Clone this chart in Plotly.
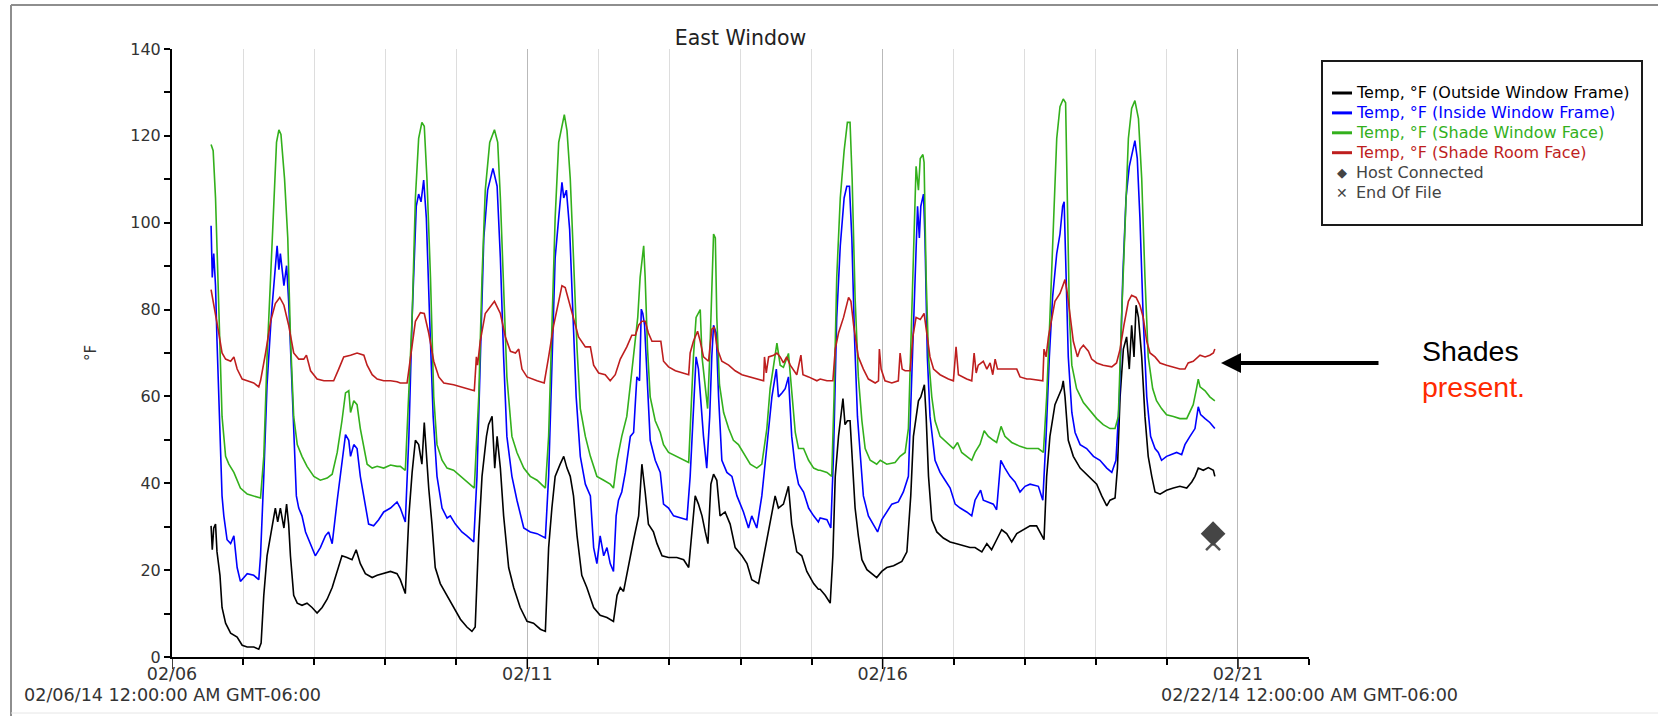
import pandas as pd
import plotly.graph_objects as go

START = pd.Timestamp("2014-02-06 00:00:00")
END = pd.Timestamp("2014-02-22 00:00:00")

# ---- data: hours since 02/06 00:00 and temperatures (°F) ----
outside_hours = [
    13.2, 13.6, 14.1, 14.7, 15.2, 16.2, 16.9, 18.1, 19.8, 22.0, 23.7, 25.4, 27.6, 29.3, 30.1,
    31.0, 32.1, 33.8, 34.9, 35.7, 36.6, 37.8, 38.7, 39.4, 40.0, 41.1, 42.3, 43.9, 45.6, 47.3,
    49.0, 50.7, 52.4, 54.1, 55.8, 57.4, 59.1, 60.8, 62.2, 63.6, 65.3, 67.6, 69.3, 71.5, 73.8, 76.0,
    77.1, 78.8, 80.0, 81.1, 82.2, 83.3, 84.4, 85.2, 85.9, 86.7, 87.8, 88.9, 90.6, 92.9, 95.1,
    97.4, 99.6, 101.3, 102.4, 103.6, 104.7, 106.2, 106.9, 108.1, 109.0, 109.8, 110.9, 112.0, 113.7, 115.4,
    117.6, 119.9, 122.1, 124.4, 126.1, 127.2, 128.3, 129.4, 131.1, 132.3, 133.4, 134.5, 135.6, 136.8, 138.4,
    140.1, 142.4, 144.6, 146.9,
    148.0, 149.1, 150.3, 151.4, 152.5, 154.2, 155.9, 157.6, 158.7, 159.8, 160.9, 162.6, 163.8, 165.5, 167.7,
    170.5, 172.8, 174.5, 175.6, 176.7, 177.8, 179.0, 180.1, 181.0, 182.0, 182.9, 184.0, 185.1, 186.8, 188.5,
    190.2, 192.5, 194.2, 195.8, 198.1, 199.8, 201.5, 202.9, 203.7, 204.8, 206.5, 208.2, 209.3, 211.0, 212.7,
    214.4, 216.7, 218.3,
    218.9, 220.6, 222.3, 223.2, 224.0, 225.1, 225.9, 226.6, 227.3, 228.1, 229.0, 229.6, 230.7, 231.8, 233.0,
    234.7, 236.3, 238.0, 239.7, 241.4, 243.7, 246.5, 248.2, 249.5, 250.4, 251.3, 252.1, 252.9, 253.6, 254.1,
    254.7, 255.5, 256.6, 258.3, 260.5, 262.8, 265.0, 267.3, 269.5, 271.2, 273.5, 275.2, 276.8, 278.5, 280.2,
    281.9, 283.6, 285.3, 287.5,
    289.8, 292.0, 293.7, 294.5, 295.4, 296.5, 298.2, 299.4, 300.5, 301.0, 301.6, 302.7, 304.4, 306.7, 309.5,
    312.3, 314.0, 315.7, 316.8, 318.5, 319.3, 320.2, 321.3, 322.4, 323.3, 324.1, 324.9, 325.6, 326.4, 327.5,
    328.6, 329.7, 330.9, 332.0, 333.7, 335.9, 338.2, 340.4, 342.7, 344.4, 345.5, 346.6, 348.3, 350.0, 351.7, 352.2,
]
outside_temp = [
    30.2, 24.7, 29.7, 30.6, 24.2, 18.8, 11.4, 7.8, 5.5, 4.6, 2.7, 2.3, 2.3, 1.8, 3.2,
    14.2, 23.3, 29.7, 34.3, 31.1, 34.3, 29.7, 35.2, 30.6, 23.3, 14.2, 12.4, 11.9, 12.4, 11.4,
    10.1, 11.4, 13.3, 16.0, 19.7, 23.3, 22.9, 22.4, 24.7, 21.5, 19.2, 18.3, 18.8, 19.2, 19.7, 19.2,
    17.8, 14.6, 32.5, 42.5, 49.9, 48.9, 44.4, 54.0, 47.1, 38.9, 30.6, 20.6, 16.9, 14.2, 11.4,
    8.7, 6.9, 5.9, 6.9, 27.9, 41.6, 50.8, 53.5, 55.4, 43.5, 50.8, 43.5, 32.5, 20.6, 16.0,
    11.4, 8.2, 7.8, 6.4, 5.9, 25.2, 34.3, 41.6, 44.4, 46.2, 43.5, 41.6, 37.1, 27.9, 18.8,
    16.0, 11.4, 9.6, 9.1,
    8.7, 8.2, 14.2, 16.0, 15.1, 21.5, 27.0, 32.5, 44.4, 38.0, 30.6, 28.8, 26.1, 23.3, 22.9,
    22.9, 22.4, 20.6, 29.7, 37.1, 35.2, 32.5, 28.8, 26.1, 39.8, 42.1, 40.7, 32.5, 33.4, 30.6,
    25.2, 23.3, 21.5, 17.8, 16.9, 23.3, 28.8, 34.3, 37.1, 34.3, 35.2, 39.3, 30.6, 24.2, 23.3,
    19.7, 16.9, 15.6,
    15.6, 14.2, 12.4, 23.3, 41.6, 50.8, 55.4, 59.5, 53.5, 54.4, 54.4, 46.2, 34.3, 27.9, 22.4,
    20.1, 19.2, 18.3, 19.7, 20.6, 21.0, 22.0, 24.2, 37.1, 50.8, 55.4, 59.0, 59.9, 61.8, 62.7,
    55.4, 41.6, 31.6, 28.8, 27.4, 26.5, 26.1, 25.6, 25.2, 25.2, 24.2, 26.1, 24.7, 27.0, 29.3,
    28.4, 26.5, 28.4, 29.3,
    30.2, 30.2, 27.9, 27.0, 41.6, 50.8, 58.1, 59.9, 61.8, 63.6, 59.9, 49.9, 46.2, 43.5, 41.6,
    39.8, 37.1, 34.8, 36.1, 36.6, 43.5, 59.9, 70.9, 73.7, 66.3, 76.4, 69.1, 81.0, 78.2, 69.1,
    55.4, 46.2, 41.6, 38.0, 37.5, 38.4, 38.9, 39.3, 38.9, 40.3, 41.6, 43.5, 43.0, 43.6, 43.0, 41.6,
]

inside_hours = [
    13.2, 13.6, 14.1, 14.7, 15.2, 16.2, 16.9, 17.5, 18.6, 19.8, 20.9, 22.0, 23.1, 25.4, 27.6,
    29.3, 29.9, 31.0, 32.1, 33.5, 34.4, 35.5, 36.1, 36.6, 37.8, 38.7, 39.4, 40.0, 41.1, 42.0,
    42.8, 43.9, 45.1, 46.8, 48.4, 50.1, 51.8, 52.9, 54.1, 55.8, 57.4, 58.6, 59.7, 60.3, 61.4,
    62.5, 63.6, 65.3, 66.4, 68.1, 69.8, 71.5, 73.8, 76.0,
    77.1, 78.8, 80.0, 81.1, 82.5, 83.3, 84.1, 85.0, 85.9, 87.0, 88.2, 89.5, 91.2, 92.9, 94.0,
    95.7, 97.9, 99.6, 101.9, 103.0, 104.1, 105.3, 106.6, 108.4, 109.8, 110.9, 112.0, 113.1, 114.8, 116.5,
    118.8, 121.0, 123.3, 126.1, 127.2, 128.3, 129.4, 130.6, 131.7, 132.3, 133.2, 134.3, 135.4, 136.5, 137.9,
    139.6, 141.3, 142.4, 143.5, 144.6, 145.8, 146.9,
    148.0, 149.1, 150.0, 150.8, 151.9, 153.1, 154.8, 155.9, 157.0, 157.9, 158.5, 159.0, 159.6, 160.4, 161.5,
    163.2, 164.9, 166.0, 167.7, 169.4, 171.7, 173.9, 175.0, 176.1, 177.0, 177.8, 178.4, 179.5, 180.6, 181.6,
    182.3, 182.9, 183.8, 184.6, 185.7, 187.4, 189.1, 190.8, 193.0, 194.7, 195.8, 197.5, 199.2, 200.9, 202.6,
    204.1, 204.8, 206.0, 207.1, 208.2, 209.3, 210.5, 211.6, 213.3, 215.0, 216.7, 218.3,
    218.9, 221.2, 222.5, 223.4, 224.5, 225.7, 227.0, 227.9, 228.8, 229.6, 230.5, 231.5, 232.4, 233.5, 235.2,
    236.9, 238.3, 239.7, 241.4, 243.1, 245.3, 247.0, 248.7, 249.8, 251.0, 251.8, 252.4, 252.9, 253.8, 254.3,
    255.1, 256.0, 257.7, 259.4, 261.1, 262.8, 264.5, 266.2, 268.4, 270.1, 271.2, 273.1, 274.0, 275.7, 277.4,
    278.5, 279.9, 281.3, 283.0, 284.7, 286.4, 288.1,
    289.8, 292.6, 294.1, 295.2, 296.3, 297.4, 298.8, 299.9, 300.8, 301.3, 301.9, 302.7, 303.9, 305.0, 306.7,
    308.9, 311.2, 313.4, 315.7, 317.4, 318.8, 320.0, 321.1, 322.2, 323.3, 324.1, 325.2, 326.0, 326.9, 328.0,
    329.2, 330.5, 332.0, 333.1, 334.2, 335.9, 337.6, 339.3, 341.0, 342.1, 343.8, 345.5, 346.6, 347.4, 348.9,
    350.5, 352.2,
]
inside_temp = [
    99.3, 87.4, 92.9, 85.5, 72.7, 50.8, 37.1, 32.5, 27.0, 26.1, 27.9, 20.6, 17.4, 19.2, 18.8,
    17.8, 23.3, 41.6, 62.7, 78.2, 85.5, 94.7, 89.2, 92.9, 85.5, 90.1, 81.9, 70.9, 50.8, 37.1,
    34.3, 32.5, 28.8, 26.1, 23.3, 25.2, 27.9, 28.8, 26.1, 36.1, 45.3, 51.2, 49.9, 46.2, 48.9,
    48.0, 41.6, 34.3, 30.6, 30.2, 31.6, 33.4, 34.3, 35.7,
    34.3, 31.1, 50.8, 78.2, 103.8, 106.6, 104.8, 109.8, 101.1, 78.2, 55.4, 41.6, 34.3, 32.0, 32.5,
    30.6, 28.8, 27.9, 26.5, 41.6, 69.1, 96.5, 107.5, 112.5, 108.4, 91.9, 69.1, 50.8, 41.6, 36.1,
    29.7, 28.8, 28.4, 27.4, 41.6, 69.1, 91.9, 101.1, 109.3, 105.7, 107.5, 98.4, 78.2, 59.9, 46.2,
    39.8, 37.1, 25.2, 21.5, 27.9, 23.3, 25.2,
    21.5, 19.7, 32.5, 36.1, 38.0, 42.5, 50.8, 51.7, 64.5, 63.6, 80.1, 79.1, 76.4, 64.5, 49.9,
    45.3, 42.5, 35.2, 34.3, 32.5, 32.0, 31.6, 41.6, 58.1, 69.1, 66.3, 60.8, 50.8, 43.5, 55.4,
    69.1, 76.4, 74.6, 59.9, 45.3, 42.5, 41.6, 37.1, 33.4, 29.7, 32.5, 29.7, 37.1, 48.0, 59.9,
    66.3, 59.9, 60.8, 61.8, 64.5, 50.8, 43.5, 39.8, 38.0, 34.3, 32.5, 31.1,
    32.0, 31.6, 29.7, 46.2, 78.2, 94.7, 105.7, 108.4, 108.4, 96.5, 73.7, 55.4, 47.1, 37.1, 32.5,
    30.6, 28.8, 31.6, 33.4, 35.2, 35.7, 38.0, 41.6, 64.5, 91.9, 103.8, 96.5, 103.8, 106.6, 96.5,
    69.1, 55.4, 45.3, 42.5, 40.7, 38.9, 35.2, 34.3, 33.4, 32.5, 36.1, 38.4, 36.1, 35.7, 35.2,
    33.9, 45.3, 43.5, 41.6, 40.3, 38.0, 39.3,
    39.8, 39.3, 36.1, 50.8, 69.1, 82.8, 92.9, 97.4, 103.8, 104.8, 87.4, 69.1, 56.3, 51.7, 48.9,
    48.0, 46.2, 45.3, 43.5, 42.5, 45.3, 59.9, 87.4, 105.7, 112.9, 115.7, 118.9, 114.8, 101.1, 78.2,
    59.9, 50.8, 48.0, 47.1, 45.3, 46.2, 46.6, 47.1, 46.6, 48.9, 50.8, 52.6, 57.6, 55.8, 54.9,
    54.0, 52.6,
]

window_face_hours = [
    13.2, 13.9, 14.7, 15.8, 16.9, 18.1, 19.2, 20.9, 23.1, 25.4, 27.6, 29.9, 31.0, 32.1, 33.3,
    34.4, 35.3, 36.1, 36.8, 38.0, 39.1, 40.0, 41.1, 42.3, 43.9, 45.6, 47.9, 50.1, 52.4, 54.1,
    55.8, 57.4, 58.6, 59.7, 60.3, 61.4, 62.5, 63.6, 64.8, 65.9, 67.6, 69.3, 71.5, 73.8, 76.0,
    77.1, 78.8, 80.0, 81.1, 82.2, 83.3, 84.4, 85.2, 86.1, 87.3, 88.4, 89.5, 91.2, 92.9, 95.1,
    97.4, 99.6, 102.1, 103.6, 104.7, 105.8, 107.3, 108.9, 110.0, 110.9, 112.0, 113.1, 114.8, 116.5, 118.8,
    121.0, 123.3, 126.1, 127.2, 128.3, 129.4, 130.6, 131.7, 132.5, 133.4, 134.5, 135.6, 136.8, 137.9, 139.6,
    141.3, 143.5, 145.8, 146.9,
    148.0, 149.1, 150.3, 151.9, 153.6, 154.8, 155.9, 157.3, 158.1, 159.3, 159.8, 160.6, 161.5, 163.2, 164.9,
    166.0, 167.7, 170.5, 172.8, 174.5, 175.2, 176.1, 177.0, 177.8, 178.4, 179.0, 180.1, 180.9, 181.6, 182.3,
    182.9, 183.5, 184.0, 184.9, 186.3, 188.0, 189.6, 191.3, 193.0, 195.3, 197.5, 199.2, 200.9, 202.0, 203.2,
    204.3, 205.4, 206.5, 208.2, 209.3, 210.5, 211.6, 213.3, 215.0, 216.7, 218.3,
    218.9, 221.2, 222.8, 223.6, 224.5, 225.7, 227.0, 228.1, 229.0, 229.7, 230.7, 231.8, 233.0, 234.1, 235.8,
    238.0, 239.2, 241.4, 244.2, 245.9, 247.6, 248.7, 249.8, 250.6, 251.3, 252.1, 252.7, 253.6, 254.0, 254.7,
    255.5, 256.6, 257.7, 259.4, 261.7, 263.9, 265.3, 266.7, 268.4, 270.1, 271.2, 272.9, 274.3, 275.7, 277.4,
    278.5, 280.0, 281.3, 283.6, 286.4, 288.7,
    289.8, 292.6, 294.3, 295.4, 296.5, 297.7, 298.8, 299.9, 301.0, 301.8, 302.4, 303.1, 303.9, 305.5, 307.8,
    310.0, 312.3, 314.5, 316.8, 318.5, 319.6, 320.7, 321.9, 323.0, 324.1, 325.2, 326.4, 327.5, 328.6, 329.7,
    331.2, 332.5, 334.2, 335.9, 338.2, 340.4, 342.7, 344.9, 346.0, 346.6, 347.2, 348.9, 350.5, 352.2,
]
window_face_temp = [
    118.0, 116.6, 105.7, 78.2, 55.4, 46.2, 44.4, 42.5, 38.9, 37.5, 37.1, 36.6, 46.2, 69.1, 87.4,
    105.7, 118.5, 121.4, 120.3, 110.2, 96.5, 73.7, 55.4, 48.9, 46.2, 43.9, 41.6, 40.7, 41.2, 42.1,
    47.1, 54.4, 60.8, 61.3, 56.3, 59.0, 58.1, 52.6, 48.0, 44.4, 43.5, 43.9, 43.5, 44.2, 43.9,
    43.9, 43.0, 59.9, 78.2, 105.7, 119.4, 123.1, 122.2, 110.2, 87.4, 59.9, 48.9, 45.3, 43.5, 43.0,
    41.6, 40.3, 38.9, 59.9, 87.4, 107.5, 118.5, 121.4, 118.5, 105.7, 82.8, 64.5, 50.8, 47.1, 43.5,
    41.6, 40.7, 38.9, 50.8, 73.7, 101.1, 118.5, 122.2, 124.9, 121.2, 110.2, 91.9, 70.9, 57.2, 50.8,
    46.2, 41.6, 40.7, 40.3,
    39.8, 38.9, 45.3, 50.8, 55.4, 62.7, 69.1, 78.2, 87.4, 94.7, 87.4, 70.9, 59.9, 54.4, 51.7,
    48.9, 47.1, 46.2, 45.3, 44.8, 55.4, 69.1, 78.2, 79.1, 80.0, 69.1, 61.8, 57.2, 69.1, 87.4,
    97.4, 96.5, 78.2, 62.7, 56.3, 52.6, 49.9, 48.9, 47.1, 44.4, 43.5, 44.4, 52.6, 61.8, 67.2,
    72.3, 67.2, 66.7, 69.9, 61.8, 51.7, 48.0, 48.0, 45.3, 43.5, 43.0,
    43.0, 42.5, 41.6, 59.9, 87.4, 105.7, 116.6, 123.1, 123.1, 110.2, 82.8, 64.5, 54.4, 48.0, 45.3,
    44.4, 45.3, 44.4, 44.8, 46.2, 47.1, 52.6, 78.2, 101.1, 113.0, 107.5, 114.8, 115.7, 113.9, 87.4,
    69.1, 59.9, 54.4, 50.8, 49.4, 48.0, 49.4, 47.1, 46.2, 45.3, 47.1, 49.0, 52.1, 50.8, 49.9,
    49.4, 53.1, 50.8, 49.4, 48.5, 48.0,
    48.0, 48.0, 47.1, 59.9, 78.2, 101.1, 119.4, 126.7, 128.5, 127.6, 105.7, 78.2, 67.2, 61.8, 58.6,
    56.8, 54.9, 53.5, 52.6, 52.6, 55.4, 78.2, 101.1, 119.4, 126.3, 128.1, 124.0, 110.2, 87.4, 69.1,
    61.8, 59.0, 57.2, 55.8, 55.4, 54.9, 54.9, 58.1, 61.8, 64.0, 62.2, 61.3, 59.9, 59.0,
]

room_face_hours = [
    13.2, 14.7, 15.8, 16.9, 18.1, 19.8, 20.9, 22.0, 23.7, 25.4, 27.6, 29.3, 29.9, 31.6, 33.3,
    34.9, 36.4, 37.8, 39.4, 41.1, 42.8, 44.5, 45.4, 46.8, 49.0, 51.3, 54.6, 56.3, 58.0, 60.3,
    62.5, 64.8, 65.9, 67.6, 69.3, 71.5, 73.8, 76.0,
    77.1, 79.4, 80.5, 82.2, 83.9, 85.2, 86.7, 88.4, 90.1, 91.8, 95.1, 99.6, 102.1, 102.8, 103.2,
    104.1, 105.8, 108.9, 110.9, 112.6, 114.3, 116.0, 117.1, 118.2, 119.9, 123.3, 125.7, 127.2, 128.9, 130.6,
    131.7, 132.8, 134.5, 135.6, 137.3, 139.6, 141.3, 142.4, 144.1, 146.3,
    148.0, 149.7, 151.4, 153.6, 155.3, 156.5, 157.6, 158.7, 159.8, 160.9, 162.1, 163.8, 165.1, 166.0, 167.7,
    170.0, 172.8, 174.5, 175.0, 176.1, 177.5, 178.4, 179.5, 181.2, 182.3, 183.1, 184.2, 185.7, 188.0, 190.2,
    192.5, 195.3, 197.5, 199.8, 200.1, 200.7, 201.5, 203.2, 204.3, 205.4, 206.5, 207.6, 208.8, 211.0, 212.4,
    213.1, 215.0, 217.8,
    218.9, 221.2, 223.2, 224.0, 225.1, 226.8, 228.5, 229.3, 230.2, 231.8, 233.5, 235.2, 237.5, 238.6, 238.9,
    239.5, 240.8, 243.1, 245.3, 245.9, 246.6, 247.6, 249.3, 250.2, 251.3, 252.7, 254.0, 255.1, 256.0, 257.2,
    259.4, 262.2, 263.9, 264.8, 265.6, 268.4, 270.1, 270.9, 271.6, 272.3, 274.0, 275.2, 276.3, 277.2, 278.0,
    278.8, 280.8, 283.0, 285.3, 286.4, 288.7,
    289.8, 293.2, 294.1, 294.5, 295.2, 296.0, 297.1, 298.2, 299.9, 301.6, 302.4, 303.3, 304.4, 305.8, 306.7,
    307.8, 309.5, 310.6, 312.3, 314.5, 317.4, 319.0, 320.2, 321.5, 323.0, 324.1, 325.6, 326.9, 328.0, 329.2,
    330.3, 332.0, 333.7, 335.9, 338.2, 340.4, 342.1, 343.2, 344.9, 347.2, 348.9, 350.5, 351.7, 352.2,
]
room_face_temp = [
    84.6, 78.2, 74.6, 70.0, 68.6, 68.1, 69.1, 66.3, 64.0, 63.6, 63.1, 62.2, 63.6, 70.0, 77.3,
    81.4, 82.8, 81.0, 76.4, 70.0, 68.6, 68.6, 69.5, 65.9, 64.0, 63.6, 63.6, 66.3, 69.1, 69.5,
    70.0, 69.5, 67.2, 65.0, 64.0, 63.6, 63.6, 63.4,
    63.1, 63.1, 69.1, 77.3, 79.3, 79.1, 74.6, 68.1, 64.5, 63.1, 62.7, 61.9, 61.3, 69.1, 67.2,
    72.7, 79.1, 81.9, 79.1, 73.7, 70.4, 70.0, 70.9, 66.3, 64.5, 63.6, 63.1, 69.1, 76.4, 81.9,
    85.5, 85.1, 81.0, 78.2, 73.7, 71.4, 71.4, 67.2, 65.4, 65.0,
    63.6, 65.0, 68.6, 71.4, 74.1, 74.1, 76.4, 77.3, 77.3, 74.6, 72.7, 72.7, 72.7, 68.1, 66.8,
    65.9, 65.4, 65.0, 70.0, 72.7, 75.0, 72.7, 69.1, 68.1, 75.5, 75.9, 70.9, 68.1, 67.2, 65.9,
    65.0, 64.5, 64.0, 63.6, 69.1, 65.4, 69.1, 69.5, 70.0, 69.1, 67.7, 69.1, 67.2, 65.0, 69.5,
    65.0, 64.5, 63.6,
    64.0, 63.6, 63.6, 70.9, 74.6, 78.2, 82.8, 81.9, 76.4, 69.1, 66.3, 64.0, 63.1, 63.6, 70.9,
    66.3, 63.6, 63.1, 63.6, 70.0, 66.3, 65.9, 65.9, 73.7, 78.2, 77.7, 79.1, 73.7, 69.1, 66.3,
    65.0, 64.0, 63.6, 71.4, 65.0, 64.0, 63.6, 70.0, 65.4, 67.2, 68.1, 66.3, 67.7, 65.0, 68.6,
    66.3, 66.3, 66.3, 66.3, 64.5, 64.0,
    64.0, 63.6, 63.6, 70.9, 69.1, 73.7, 78.2, 81.9, 83.7, 86.9, 83.7, 78.2, 72.7, 69.1, 70.9,
    71.8, 70.4, 68.6, 67.7, 67.2, 66.8, 67.7, 70.9, 76.4, 81.9, 83.3, 82.8, 81.0, 78.2, 72.7,
    70.0, 69.1, 67.7, 67.2, 66.8, 66.3, 66.3, 67.7, 68.1, 69.5, 69.1, 69.5, 70.0, 70.9,
]

host_connected_hours = [351.6]
host_connected_temp = [28.4]
end_of_file_hours = [351.6]
end_of_file_temp = [26.2]

series_names = [
    "Temp, °F (Outside Window Frame)",
    "Temp, °F (Inside Window Frame)",
    "Temp, °F (Shade Window Face)",
    "Temp, °F (Shade Room Face)",
]
series_colors = ["#000000", "#0000FF", "#33B01C", "#BE1E1E"]
marker_names = ["Host Connected", "End Of File"]
marker_color = "#444444"
labeled_tick_days = [0, 5, 10, 15]   # 02/06, 02/11, 02/16, 02/21

series_data = [
    (outside_hours, outside_temp),
    (inside_hours, inside_temp),
    (window_face_hours, window_face_temp),
    (room_face_hours, room_face_temp),
]
for hh, vv in series_data:
    assert len(hh) == len(vv), (len(hh), len(vv))


def to_time(hours):
    return [START + pd.Timedelta(hours=h) for h in hours]


FONT = "DejaVu Sans"
# plot-area geometry (pixels) used to place decorations outside the axes
L, R, T, B = 172, 1309, 49, 657
PW, PH = R - L, B - T


def px(x):
    return (x - L) / PW


def py(y):
    return (B - y) / PH


fig = go.Figure()

for name, color, (hh, vv) in zip(series_names, series_colors, series_data):
    fig.add_trace(go.Scatter(
        x=to_time(hh), y=vv, mode="lines", name=name, showlegend=False,
        line=dict(color=color, width=1.6),
    ))

fig.add_trace(go.Scatter(
    x=to_time(end_of_file_hours), y=end_of_file_temp, mode="markers", showlegend=False,
    name=marker_names[1],
    marker=dict(symbol="x-thin-open", size=14, color="#555555",
                line=dict(color="#555555", width=2.5)),
))
fig.add_trace(go.Scatter(
    x=to_time(host_connected_hours), y=host_connected_temp, mode="markers", showlegend=False,
    name=marker_names[0],
    marker=dict(symbol="diamond", size=19, color="#454545"),
))

DAY_MS = 86400000

fig.update_layout(
    width=1658, height=716,
    margin=dict(l=L, r=1658 - R, t=T, b=716 - B, pad=0),
    paper_bgcolor="white", plot_bgcolor="white",
    font=dict(family=FONT, color="#333333"),
    title=dict(text="East Window", x=0.5, xref="paper", xanchor="center",
               y=1 - 38 / 716, yref="container", yanchor="middle",
               font=dict(family=FONT, size=20.5, color="#222222")),
    showlegend=False,
    xaxis=dict(
        type="date", range=[START, END],
        tickmode="linear", tick0="2014-02-06", dtick=5 * DAY_MS,
        tickformat="%m/%d",
        ticks="outside", ticklen=0, tickwidth=1.5, tickcolor="black",
        showline=True, linecolor="black", linewidth=2,
        showgrid=True, gridcolor="#b9b9b9", gridwidth=1,
        zeroline=False,
        tickfont=dict(family=FONT, size=17.5, color="#333333"),
        minor=dict(dtick=DAY_MS, tick0="2014-02-06", ticks="outside", ticklen=6,
                   tickwidth=1.5, tickcolor="black",
                   showgrid=True, gridcolor="#dddddd", gridwidth=1),
    ),
    yaxis=dict(
        range=[0, 140], tickmode="linear", tick0=0, dtick=20,
        ticks="outside", ticklen=6, tickwidth=1.5, tickcolor="black",
        showline=True, linecolor="black", linewidth=2,
        showgrid=False, zeroline=False,
        tickfont=dict(family=FONT, size=16, color="#333333"),
        minor=dict(dtick=10, ticks="outside", ticklen=6, tickwidth=1.5, tickcolor="black",
                   showgrid=False),
        title=dict(text="°F", standoff=30, font=dict(family=FONT, size=15, color="#333333")),
    ),
)

# longer ticks at the labelled dates (they run through the labels, as in the original)
for d in labeled_tick_days:
    t = START + pd.Timedelta(days=d)
    fig.add_shape(type="line", xref="x", yref="paper", x0=t, x1=t, y0=0, y1=-12 / PH,
                  line=dict(color="black", width=1.5))

# frame around the whole picture
fx0 = px(11)
fig.add_shape(type="line", xref="paper", yref="paper", x0=fx0, x1=px(1658),
              y0=py(5), y1=py(5), line=dict(color="#8e8e8e", width=2))
fig.add_shape(type="line", xref="paper", yref="paper", x0=fx0, x1=fx0,
              y0=py(5), y1=py(716), line=dict(color="#8e8e8e", width=2))
fig.add_shape(type="line", xref="paper", yref="paper", x0=fx0, x1=px(1658),
              y0=py(713), y1=py(713), line=dict(color="#e6e6e6", width=1))

# ---- legend box (drawn) ----
fig.add_shape(type="rect", xref="paper", yref="paper", x0=px(1322), x1=px(1642),
              y0=py(61), y1=py(225), line=dict(color="#1a1a1a", width=2), fillcolor="white")
row_y = [93 + 19.9 * i for i in range(6)]
for i, (name, color) in enumerate(zip(series_names, series_colors)):
    fig.add_shape(type="line", xref="paper", yref="paper", x0=px(1332), x1=px(1352),
                  y0=py(row_y[i]), y1=py(row_y[i]), line=dict(color=color, width=3))
    fig.add_annotation(xref="paper", yref="paper", x=px(1354), y=py(row_y[i]), text=name,
                       showarrow=False, xanchor="left", yanchor="middle",
                       font=dict(family=FONT, size=16, color=color))
for i, (name, glyph, gsize) in enumerate(zip(marker_names, ["◆", "✕"], [13, 14])):
    fig.add_annotation(xref="paper", yref="paper", x=px(1342), y=py(row_y[4 + i]), text=glyph,
                       showarrow=False, xanchor="center", yanchor="middle",
                       font=dict(family=FONT, size=gsize, color=marker_color))
    fig.add_annotation(xref="paper", yref="paper", x=px(1354), y=py(row_y[4 + i]), text=name,
                       showarrow=False, xanchor="left", yanchor="middle",
                       font=dict(family=FONT, size=16, color=marker_color))

# ---- bottom date stamps ----
for x, txt in [(0, "02/06/14 12:00:00 AM GMT-06:00"), (1, "02/22/14 12:00:00 AM GMT-06:00")]:
    fig.add_annotation(xref="paper", yref="paper", x=x, y=py(695), text=txt,
                       showarrow=False, xanchor="center", yanchor="middle",
                       font=dict(family=FONT, size=17.6, color="#333333"))

# ---- "Shades present." callout ----
fig.add_annotation(xref="paper", yref="paper", x=px(1221), y=py(363),
                   ax=159, ay=0, text="", showarrow=True, arrowhead=2, arrowsize=1,
                   arrowwidth=4, arrowcolor="black", standoff=0)
fig.add_annotation(xref="paper", yref="paper", x=px(1420), y=py(351),
                   text="Shades", showarrow=False, xanchor="left", yanchor="middle",
                   font=dict(family="Liberation Sans", size=28.5, color="black"))
fig.add_annotation(xref="paper", yref="paper", x=px(1420), y=py(387),
                   text="present.", showarrow=False, xanchor="left", yanchor="middle",
                   font=dict(family="Liberation Sans", size=28.5, color="#FF2A00"))

fig.write_html("out.html", config={"displayModeBar": False},
               post_script="document.body.style.margin='0';")
